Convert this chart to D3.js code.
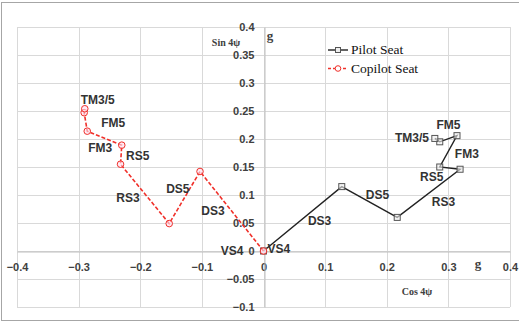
<!DOCTYPE html>
<html>
<head>
<meta charset="utf-8">
<script src="https://cdn.jsdelivr.net/npm/d3@7"></script>
<style>
  body { margin: 0; background: #fff; }
  svg { display: block; }
</style>
</head>
<body>
<div id="chart-area"></div>
<script>
// data (x = Cos 4psi, y = Sin 4psi, in g)
var pilotCos = [0.0, 0.127, 0.217, 0.319, 0.286, 0.314, 0.286, 0.278];
var pilotSin = [0.0, 0.115, 0.060, 0.146, 0.150, 0.206, 0.195, 0.201];
var copilotCos = [0.0, -0.103, -0.153, -0.232, -0.230, -0.286, -0.291, -0.290];
var copilotSin = [0.0, 0.142, 0.049, 0.155, 0.189, 0.214, 0.247, 0.254];

var seriesNames = ["Pilot Seat", "Copilot Seat"];
var pointNames = ["VS4", "DS3", "DS5", "RS3", "RS5", "FM3", "FM5", "TM3/5"];

// where the point names sit (data coords)
var pilotLabelCos = [0.025, 0.091, 0.185, 0.292, 0.273, 0.330, 0.300, 0.241];
var pilotLabelSin = [0.004, 0.054, 0.101, 0.088, 0.133, 0.174, 0.226, 0.203];
var copilotLabelCos = [-0.051, -0.082, -0.139, -0.220, -0.204, -0.265, -0.244, -0.269];
var copilotLabelSin = [0.0, 0.072, 0.112, 0.095, 0.171, 0.184, 0.229, 0.271];

var xTicks = [-0.4, -0.3, -0.2, -0.1, 0, 0.1, 0.2, 0.3, 0.4];
var yTicks = [-0.1, -0.05, 0, 0.05, 0.1, 0.15, 0.2, 0.25, 0.3, 0.35, 0.4];

var W = 519, H = 322;
var plot = { left: 17, right: 510, top: 27, bottom: 307 };

var svg = d3.select("#chart-area").append("svg")
  .attr("width", W)
  .attr("height", H);

svg.append("rect")
  .attr("x", 1.5).attr("y", 2.5)
  .attr("width", W + 5).attr("height", 318)
  .attr("fill", "#fff")
  .attr("stroke", "#a6a6a6");

var x = d3.scaleLinear().domain([-0.4, 0.4]).range([plot.left, plot.right]);
var y = d3.scaleLinear().domain([-0.1, 0.4]).range([plot.bottom, plot.top]);

// gridlines
var grid = svg.append("g").attr("class", "grid");
grid.selectAll(".vg").data(xTicks).enter().append("line")
  .attr("x1", d => Math.round(x(d)) + 0.5).attr("x2", d => Math.round(x(d)) + 0.5)
  .attr("y1", plot.top).attr("y2", plot.bottom)
  .attr("stroke", "#d9d9d9");
grid.selectAll(".hg").data(yTicks).enter().append("line")
  .attr("y1", d => Math.round(y(d)) + 0.5).attr("y2", d => Math.round(y(d)) + 0.5)
  .attr("x1", plot.left).attr("x2", plot.right)
  .attr("stroke", "#d9d9d9");

// axes crossing at the origin
var xAxisCall = d3.axisBottom(x).tickValues(xTicks).tickSize(0).tickPadding(12)
  .tickFormat(d => d3.format("")(+d.toFixed(2)));
var yAxisCall = d3.axisLeft(y).tickValues(yTicks).tickSize(0).tickPadding(10)
  .tickFormat(d => d3.format("")(+d.toFixed(2)));

var xAxisGroup = svg.append("g")
  .attr("transform", `translate(0, ${Math.round(y(0)) + 0.5})`)
  .call(xAxisCall);
var yAxisGroup = svg.append("g")
  .attr("transform", `translate(${Math.round(x(0)) + 0.5}, 0)`)
  .call(yAxisCall);

[xAxisGroup, yAxisGroup].forEach(g => {
  g.select(".domain").attr("stroke", "#bfbfbf");
  g.selectAll("text")
    .attr("font-family", "'Liberation Sans', Arial, sans-serif")
    .attr("font-size", "11px")
    .attr("font-weight", "bold")
    .attr("fill", "#404040");
});

// axis titles
var serif = "'Liberation Serif', 'Times New Roman', serif";
svg.append("text").attr("x", 226).attr("y", 45.5)
  .attr("text-anchor", "middle").attr("font-family", serif)
  .attr("font-size", "10px").attr("font-weight", "bold").attr("fill", "#404040")
  .text("Sin 4ψ");
svg.append("text").attr("x", 417).attr("y", 294.5)
  .attr("text-anchor", "middle").attr("font-family", serif)
  .attr("font-size", "10px").attr("font-weight", "bold").attr("fill", "#404040")
  .text("Cos 4ψ");
svg.append("text").attr("x", 270).attr("y", 40)
  .attr("text-anchor", "middle").attr("font-family", serif)
  .attr("font-size", "13px").attr("font-weight", "bold").attr("fill", "#404040")
  .text("g");
svg.append("text").attr("x", 478).attr("y", 268)
  .attr("text-anchor", "middle").attr("font-family", serif)
  .attr("font-size", "13px").attr("font-weight", "bold").attr("fill", "#404040")
  .text("g");

var line = d3.line().x(d => x(d[0])).y(d => y(d[1]));

var pilot = pilotCos.map((c, i) => [c, pilotSin[i]]);
var copilot = copilotCos.map((c, i) => [c, copilotSin[i]]);

// Pilot seat: black solid, square markers
svg.append("path").datum(pilot)
  .attr("d", line).attr("fill", "none")
  .attr("stroke", "#222").attr("stroke-width", 1.4);
svg.selectAll(".psq").data(pilot).enter().append("rect")
  .attr("x", d => x(d[0]) - 3).attr("y", d => y(d[1]) - 3)
  .attr("width", 6).attr("height", 6)
  .attr("fill", "#eee").attr("fill-opacity", 0.6)
  .attr("stroke", "#555").attr("stroke-width", 1);

// Copilot seat: red dashed, circle markers
var red = "#f0302a";
svg.append("path").datum(copilot)
  .attr("d", line).attr("fill", "none")
  .attr("stroke", red).attr("stroke-width", 1.6)
  .attr("stroke-dasharray", "4,2");
svg.selectAll(".ccir").data(copilot).enter().append("circle")
  .attr("cx", d => x(d[0])).attr("cy", d => y(d[1]))
  .attr("r", 3.3)
  .attr("fill", "#fde").attr("fill-opacity", 0.6)
  .attr("stroke", red).attr("stroke-width", 1);

// point names
var labelFont = "'Liberation Sans', Arial, sans-serif";
function addLabels(cs, ss) {
  svg.append("g").selectAll("text").data(pointNames).enter().append("text")
    .attr("x", (d, i) => x(cs[i])).attr("y", (d, i) => y(ss[i]))
    .attr("dy", "0.36em")
    .attr("text-anchor", "middle")
    .attr("font-family", labelFont).attr("font-size", "12px")
    .attr("font-weight", "bold").attr("fill", "#333")
    .text(d => d);
}
addLabels(pilotLabelCos, pilotLabelSin);
addLabels(copilotLabelCos, copilotLabelSin);

// legend
var legend = svg.append("g").attr("transform", "translate(328, 50)");
seriesNames.forEach((name, i) => {
  var row = legend.append("g").attr("transform", `translate(0, ${i * 18.5})`);
  row.append("line").attr("x1", 0).attr("x2", 20).attr("y1", 0).attr("y2", 0)
    .attr("stroke", i === 0 ? "#222" : red).attr("stroke-width", 1.4)
    .attr("stroke-dasharray", i === 0 ? null : "3,2");
  if (i === 0) {
    row.append("rect").attr("x", 7.5).attr("y", -2.5).attr("width", 5).attr("height", 5)
      .attr("fill", "#eee").attr("stroke", "#555");
  } else {
    row.append("circle").attr("cx", 10).attr("cy", 0).attr("r", 2.8)
      .attr("fill", "#fff").attr("stroke", red);
  }
  row.append("text").attr("x", 23).attr("y", 0).attr("dy", "0.33em")
    .attr("font-family", serif).attr("font-size", "13.5px").attr("fill", "#111")
    .text(name);
});
</script>
</body>
</html>
